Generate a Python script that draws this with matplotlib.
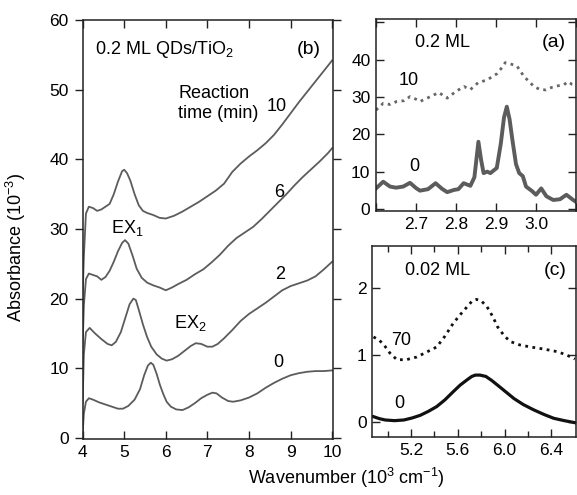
import numpy as np
import matplotlib
matplotlib.use("Agg")
from matplotlib import pyplot as plt

plt.rcParams['font.family'] = ['Liberation Sans', 'DejaVu Sans']
plt.rcParams['mathtext.fontset'] = 'custom'
plt.rcParams['mathtext.rm'] = 'Liberation Sans'
plt.rcParams['mathtext.it'] = 'Liberation Sans'
plt.rcParams['font.size'] = 13

# panel (b): reaction time series, 0.2 ML QDs/TiO2
b_x0 = [4.00, 4.03, 4.08, 4.15, 4.25, 4.40, 4.55, 4.70, 4.85, 4.97, 5.10, 5.25, 5.38, 5.48,
        5.57, 5.64, 5.70, 5.78, 5.86, 5.94, 6.02, 6.12, 6.25, 6.40, 6.55, 6.70, 6.85, 7.00,
        7.12, 7.22, 7.35, 7.50, 7.62, 7.80, 8.00, 8.20, 8.40, 8.60, 8.80, 9.00, 9.20, 9.40,
        9.60, 9.80, 10.00]
b_y0 = [0.5, 3.5, 5.2, 5.7, 5.5, 5.1, 4.8, 4.5, 4.2, 4.2, 4.6, 5.5, 7.0, 9.0,
        10.4, 10.8, 10.5, 9.2, 7.6, 6.3, 5.2, 4.5, 4.1, 4.0, 4.4, 5.0, 5.7, 6.2,
        6.5, 6.4, 5.8, 5.3, 5.2, 5.4, 5.8, 6.4, 7.2, 7.9, 8.5, 9.0, 9.3, 9.5,
        9.6, 9.6, 9.7]

b_x2 = [4.00, 4.03, 4.08, 4.17, 4.30, 4.45, 4.60, 4.70, 4.80, 4.92, 5.03, 5.13, 5.22, 5.28,
        5.36, 5.45, 5.55, 5.65, 5.78, 5.90, 6.02, 6.15, 6.30, 6.45, 6.60, 6.72, 6.85, 7.00,
        7.12, 7.25, 7.40, 7.60, 7.80, 8.00, 8.20, 8.40, 8.60, 8.80, 9.00, 9.20, 9.40, 9.60,
        9.80, 10.00]
b_y2 = [5.0, 12.0, 15.2, 15.8, 15.0, 14.2, 13.5, 13.3, 13.8, 15.2, 17.3, 19.2, 20.0, 19.8,
        18.2, 16.3, 14.5, 13.1, 12.0, 11.4, 11.1, 11.3, 11.8, 12.5, 13.2, 13.6, 13.5, 13.1,
        13.1, 13.5, 14.3, 15.5, 16.8, 17.8, 18.6, 19.4, 20.3, 21.2, 21.8, 22.2, 22.6, 23.2,
        24.2, 25.3]

b_x6 = [4.00, 4.03, 4.08, 4.15, 4.25, 4.35, 4.45, 4.55, 4.65, 4.75, 4.85, 4.95, 5.02, 5.10,
        5.20, 5.30, 5.42, 5.55, 5.70, 5.85, 6.00, 6.15, 6.30, 6.50, 6.70, 6.90, 7.10, 7.30,
        7.50, 7.70, 7.90, 8.10, 8.30, 8.50, 8.70, 8.90, 9.10, 9.30, 9.50, 9.70, 9.90, 10.00]
b_y6 = [13.0, 19.0, 22.8, 23.6, 23.4, 23.2, 22.7, 23.1, 24.0, 25.3, 26.8, 28.0, 28.4, 27.9,
        26.2, 24.3, 23.0, 22.3, 21.9, 21.6, 21.2, 21.6, 22.1, 22.7, 23.5, 24.2, 25.2, 26.3,
        27.6, 28.7, 29.5, 30.3, 31.4, 32.6, 33.8, 35.0, 36.3, 37.5, 38.6, 39.7, 40.9, 41.6]

b_x10 = [4.00, 4.03, 4.08, 4.15, 4.25, 4.35, 4.45, 4.55, 4.65, 4.75, 4.85, 4.95, 5.00, 5.07,
         5.15, 5.25, 5.35, 5.45, 5.55, 5.70, 5.85, 6.00, 6.20, 6.40, 6.60, 6.80, 7.00, 7.20,
         7.40, 7.60, 7.80, 8.00, 8.20, 8.40, 8.60, 8.80, 9.00, 9.20, 9.40, 9.60, 9.80, 10.00]
b_y10 = [20.0, 26.0, 32.2, 33.2, 33.0, 32.6, 32.8, 33.2, 33.6, 35.0, 36.8, 38.3, 38.5, 38.0,
         36.9, 35.0, 33.4, 32.6, 32.3, 32.0, 31.6, 31.5, 31.9, 32.5, 33.2, 33.9, 34.7, 35.5,
         36.5, 38.2, 39.4, 40.4, 41.3, 42.3, 43.5, 45.0, 46.6, 48.2, 49.7, 51.2, 52.7, 54.2]

# panel (a): 0.2 ML, C-H region
a_x0 = [2.600, 2.618, 2.635, 2.650, 2.668, 2.685, 2.700, 2.710, 2.730, 2.749, 2.765, 2.778,
        2.795, 2.806, 2.819, 2.836, 2.846, 2.856, 2.863, 2.869, 2.878, 2.886, 2.902, 2.912,
        2.920, 2.927, 2.934, 2.941, 2.950, 2.958, 2.967, 2.975, 2.990, 3.000, 3.013, 3.026,
        3.043, 3.060, 3.076, 3.093, 3.100]
a_y0 = [5.5, 7.3, 6.0, 5.7, 6.0, 7.0, 5.6, 4.9, 5.3, 6.9, 5.4, 4.5,
        5.1, 5.3, 6.9, 6.2, 8.5, 18.0, 13.0, 9.6, 10.0, 9.6, 11.0, 17.5,
        24.5, 27.4, 24.0, 18.5, 12.0, 9.6, 8.8, 6.0, 4.8, 3.8, 5.5, 3.4,
        2.4, 2.6, 3.8, 2.4, 1.9]

a_x10 = [2.600, 2.618, 2.635, 2.652, 2.670, 2.685, 2.700, 2.710, 2.730, 2.757, 2.778, 2.800,
         2.820, 2.836, 2.855, 2.878, 2.902, 2.912, 2.923, 2.938, 2.953, 2.970, 2.995, 3.010,
         3.025, 3.040, 3.055, 3.070, 3.080, 3.090, 3.100]
a_y10 = [26.5, 28.3, 28.0, 28.8, 29.0, 30.1, 29.4, 28.8, 29.8, 31.2, 29.7, 31.5,
         32.8, 32.0, 33.8, 34.6, 36.2, 37.5, 39.2, 38.8, 38.2, 35.5, 32.8, 32.0,
         31.9, 32.6, 33.0, 33.3, 34.1, 33.4, 33.2]

# panel (c): 0.02 ML
c_x0 = [4.88, 4.93, 4.98, 5.06, 5.14, 5.21, 5.28, 5.35, 5.42, 5.49, 5.56, 5.62, 5.68, 5.72,
        5.75, 5.79, 5.84, 5.89, 5.94, 6.01, 6.08, 6.16, 6.25, 6.34, 6.42, 6.51, 6.60]
c_y0 = [0.08, 0.05, 0.03, 0.02, 0.03, 0.06, 0.10, 0.16, 0.23, 0.33, 0.45, 0.55, 0.63, 0.68,
        0.70, 0.70, 0.68, 0.62, 0.55, 0.45, 0.35, 0.26, 0.18, 0.11, 0.055, 0.02, -0.01]

c_x70 = [4.88, 4.93, 4.97, 5.02, 5.08, 5.16, 5.25, 5.33, 5.42, 5.49, 5.56, 5.62, 5.68, 5.72,
         5.76, 5.80, 5.85, 5.90, 5.94, 6.00, 6.05, 6.13, 6.22, 6.33, 6.45, 6.53, 6.60]
c_y70 = [1.27, 1.22, 1.15, 1.03, 0.93, 0.93, 0.97, 1.04, 1.12, 1.28, 1.47, 1.60, 1.72, 1.80,
         1.83, 1.81, 1.72, 1.57, 1.42, 1.28, 1.20, 1.15, 1.12, 1.09, 1.05, 1.00, 0.94]

W, H = 577, 495
fig = plt.figure(figsize=(W / 100, H / 100), dpi=100)

axb = fig.add_axes([82.6 / W, 1 - 439 / H, 250.4 / W, 419 / H])
axa = fig.add_axes([376 / W, 1 - 211 / H, 200 / W, 192 / H])
axc = fig.add_axes([372.3 / W, 1 - 437 / H, 203.7 / W, 191 / H])

for ax in (axa, axb, axc):
    for sp in ax.spines.values():
        sp.set_linewidth(1.1)
        sp.set_color('#222222')
    ax.tick_params(which='both', direction='in', top=True, right=True,
                   width=1.0, color='#222222', labelsize=12.5, pad=4)
    ax.tick_params(which='major', length=6)
    ax.tick_params(which='minor', length=4)

# (b)
gray = '#5c5c5c'
for xs, ys in ((b_x0, b_y0), (b_x2, b_y2), (b_x6, b_y6), (b_x10, b_y10)):
    axb.plot(xs, ys, color=gray, lw=1.3)
axb.set_xlim(4.0, 10.02)
axb.set_ylim(-0.15, 60)
axb.set_xticks([4, 5, 6, 7, 8, 9, 10])
axb.set_yticks([0, 10, 20, 30, 40, 50, 60])
axb.tick_params(axis='y', which='major', direction='out', left=True)
axb.text(0.05, 0.93, '0.2 ML QDs/TiO$_2$', transform=axb.transAxes, va='center')
axb.text(0.95, 0.93, '(b)', transform=axb.transAxes, fontsize=14, va='center', ha='right')
axb.text(6.3, 49.5, 'Reaction', va='center')
axb.text(6.3, 46.6, 'time (min)', va='center')
axb.text(8.67, 47.6, '10', ha='center', va='center')
axb.text(8.72, 35.3, '6', ha='center', va='center')
axb.text(8.75, 23.4, '2', ha='center', va='center')
axb.text(8.70, 10.9, '0', ha='center', va='center')
axb.text(5.08, 30.2, 'EX$_1$', ha='center', va='center')
axb.text(6.6, 16.5, 'EX$_2$', ha='center', va='center')

# (a)
axa.plot(a_x10, a_y10, color='#666666', lw=2.0, ls=(0, (1, 1.6)))
axa.plot(a_x0, a_y0, color='#5c5c5c', lw=2.8)
axa.set_xlim(2.6, 3.1)
axa.set_ylim(-0.55, 50.9)
axa.set_xticks([2.6, 2.7, 2.8, 2.9, 3.0, 3.1], ['', '2.7', '2.8', '2.9', '3.0', ''])
axa.set_yticks([0, 10, 20, 30, 40, 50], ['0', '10', '20', '30', '40', ''])
axa.text(0.33, 0.88, '0.2 ML', transform=axa.transAxes, ha='center', va='center')
axa.text(0.89, 0.88, '(a)', transform=axa.transAxes, fontsize=14, ha='center', va='center')
axa.text(2.682, 34.3, '10', ha='center', va='center')
axa.text(2.695, 11.3, '0', ha='center', va='center')

# (c)
axc.plot(c_x70, c_y70, color='#111111', lw=2.0, ls=(0, (1, 1.6)))
axc.plot(c_x0, c_y0, color='#111111', lw=2.3)
axc.set_xlim(4.87, 6.61)
axc.set_ylim(-0.224, 2.627)
axc.set_xticks([5.2, 5.6, 6.0, 6.4], ['5.2', '5.6', '6.0', '6.4'])
axc.set_xticks([5.0, 5.4, 5.8, 6.2], minor=True)
axc.set_yticks([0, 1, 2])
axc.text(0.32, 0.87, '0.02 ML', transform=axc.transAxes, ha='center', va='center')
axc.text(0.90, 0.87, '(c)', transform=axc.transAxes, fontsize=14, ha='center', va='center')
axc.text(5.12, 1.21, '70', ha='center', va='center')
axc.text(5.10, 0.28, '0', ha='center', va='center')

fig.text(0.027, 0.5, 'Absorbance (10$^{-3}$)', rotation=90, ha='center', va='center')
fig.text(0.6, 0.034, 'Wavenumber (10$^3$ cm$^{-1}$)', ha='center', va='center')

fig.savefig('out.png', dpi=100)
